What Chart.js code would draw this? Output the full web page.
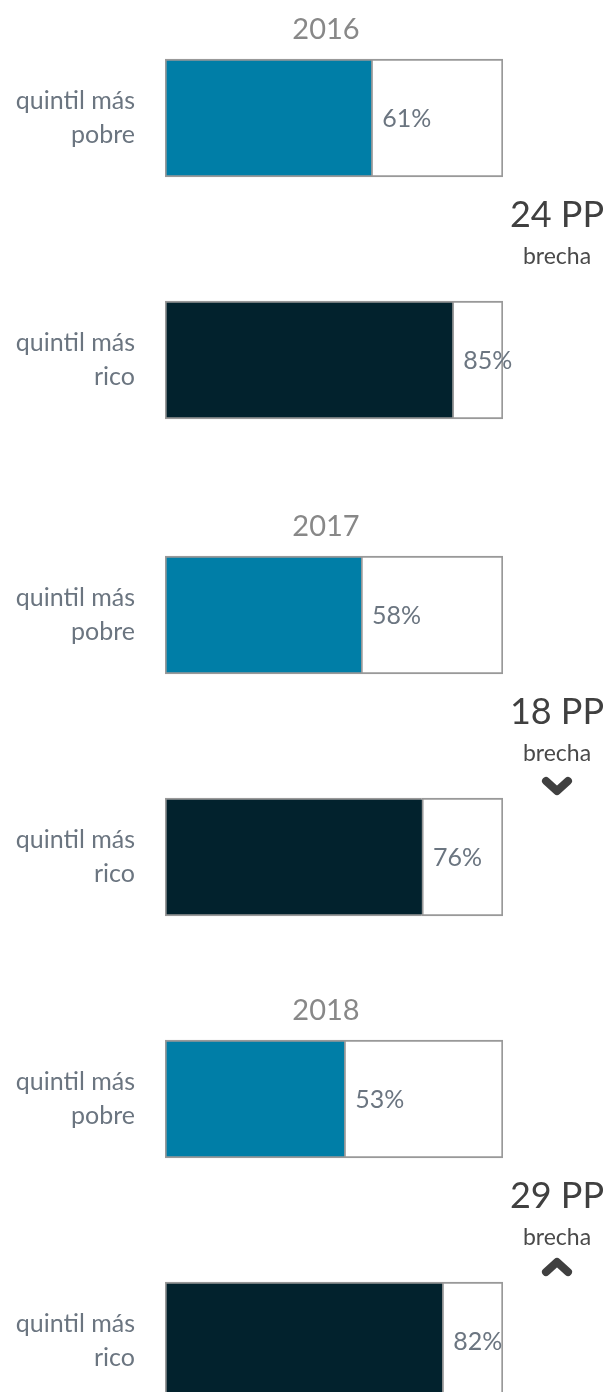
<!DOCTYPE html>
<html>
<head>
<meta charset="utf-8">
<script src="https://cdn.jsdelivr.net/npm/chart.js@4.4.1/dist/chart.umd.min.js"></script>
<style>
  html, body { margin: 0; padding: 0; background: #fff; }
  body { width: 605px; height: 1392px; position: relative; overflow: hidden; }
  canvas { position: absolute; left: 0; }
</style>
</head>
<body>
<canvas id="panel-0" width="605" height="510"></canvas>
<canvas id="panel-1" width="605" height="510"></canvas>
<canvas id="panel-2" width="605" height="510"></canvas>
<script>
const years = ['2016', '2017', '2018'];
const categories = [['quintil más', 'pobre'], ['quintil más', 'rico']];
const poorest = [61, 58, 53];
const richest = [85, 76, 82];

// page offsets of each panel canvas
const panelTops = [-23, 474, 958];

const FONT = 'Lato, "Open Sans", sans-serif';
const barColors = ['#007ea7', '#02222d'];
const frameColor = '#999999';
const labelColor = '#6b7580';

const annotate = {
    id: 'annotate',
    afterDatasetsDraw(chart, args, opts) {
        const { ctx, chartArea } = chart;
        const i = opts.index;
        const top = chartArea.top;
        ctx.save();

        // year title
        ctx.font = '29px ' + FONT;
        ctx.fillStyle = '#888888';
        ctx.textAlign = 'center';
        ctx.textBaseline = 'alphabetic';
        ctx.fillText(years[i], 326, top + 42);

        // value labels right of the filled part
        const values = [poorest[i], richest[i]];
        ctx.font = '25px ' + FONT;
        ctx.fillStyle = labelColor;
        ctx.textAlign = 'left';
        ctx.textBaseline = 'middle';
        chart.getDatasetMeta(0).data.forEach((bar, j) => {
            ctx.fillText(values[j] + '%', bar.x + 11, bar.y + 1);
        });

        // gap
        const gap = richest[i] - poorest[i];
        const cx = 557;
        ctx.textAlign = 'center';
        ctx.textBaseline = 'alphabetic';
        ctx.fillStyle = '#404040';
        ctx.font = '36px ' + FONT;
        ctx.fillText(gap + ' PP', cx, top + 230);
        ctx.fillStyle = '#4a4a4a';
        ctx.font = '23px ' + FONT;
        ctx.fillText('brecha', cx, top + 267);

        if (i > 0) {
            const prev = richest[i - 1] - poorest[i - 1];
            const dir = gap < prev ? 1 : -1; // 1 = down, -1 = up
            const cy = top + (dir === 1 ? 292 : 289);
            ctx.strokeStyle = '#404040';
            ctx.lineWidth = 8;
            ctx.lineCap = 'round';
            ctx.lineJoin = 'round';
            ctx.beginPath();
            ctx.moveTo(cx - 11, cy - 5 * dir);
            ctx.lineTo(cx, cy + 5 * dir);
            ctx.lineTo(cx + 11, cy - 5 * dir);
            ctx.stroke();
        }
        ctx.restore();
    }
};

years.forEach((year, i) => {
    const canvas = document.getElementById('panel-' + i);
    canvas.style.top = panelTops[i] + 'px';
    const values = [poorest[i], richest[i]];

    new Chart(canvas, {
        type: 'bar',
        data: {
            labels: categories,
            datasets: [{
                data: values,
                backgroundColor: barColors,
                borderColor: frameColor,
                borderWidth: { top: 2, bottom: 2, left: 2, right: 0 },
                borderSkipped: false,
                barThickness: 118
            }, {
                data: values.map(v => 100 - v),
                backgroundColor: '#ffffff',
                borderColor: frameColor,
                borderWidth: 2,
                borderSkipped: false,
                barThickness: 118
            }]
        },
        options: {
            indexAxis: 'y',
            responsive: false,
            animation: false,
            devicePixelRatio: 1,
            layout: { padding: { top: 20, bottom: 6, left: 0, right: 102 } },
            plugins: {
                legend: { display: false },
                tooltip: { enabled: false },
                annotate: { index: i }
            },
            scales: {
                x: { stacked: true, min: 0, max: 100, display: false },
                y: {
                    stacked: true,
                    grid: { display: false, drawTicks: false },
                    border: { display: false },
                    ticks: {
                        padding: 30,
                        color: labelColor,
                        font: { family: FONT, size: 25, lineHeight: 1.35 }
                    },
                    afterFit: (scale) => {
                        scale.width = 165;
                        scale.paddingTop = 0;
                        scale.paddingBottom = 0;
                    }
                }
            }
        },
        plugins: [annotate]
    });
});
</script>
</body>
</html>
